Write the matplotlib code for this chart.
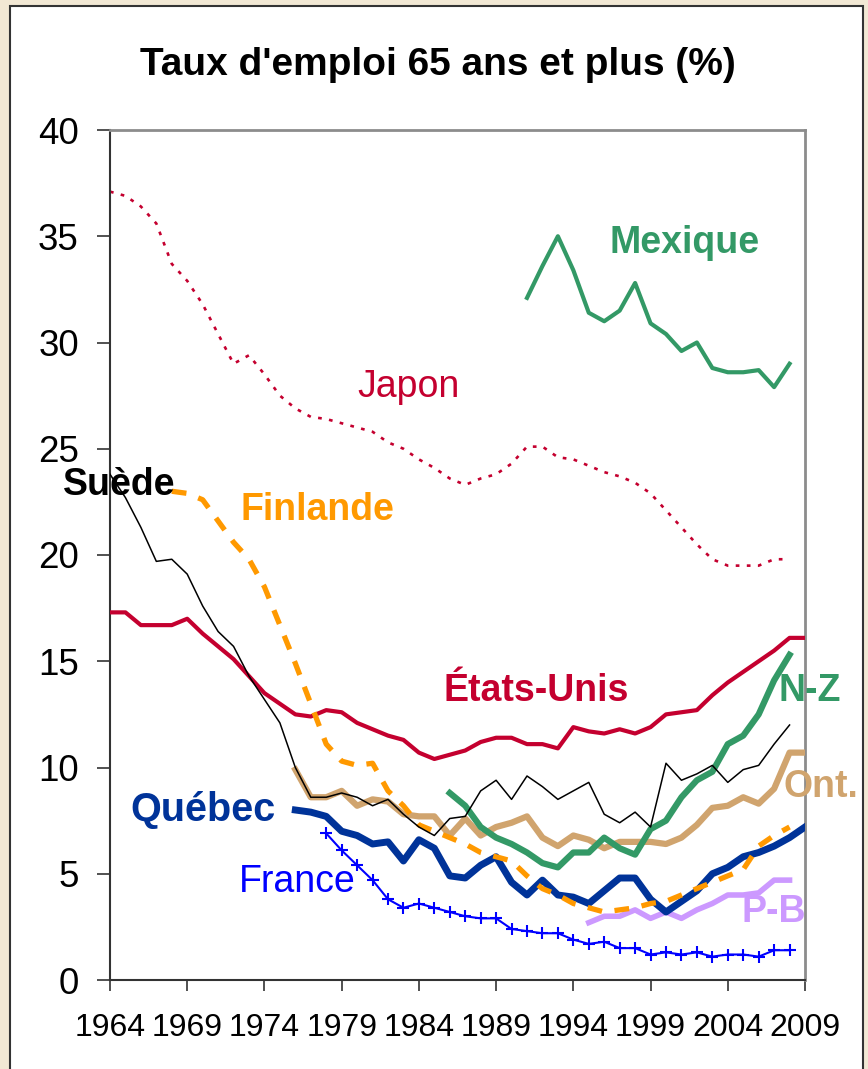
import numpy as np
import matplotlib
matplotlib.use("Agg")
from matplotlib import pyplot as plt
from matplotlib.patches import Rectangle

plt.rcParams['font.family'] = ['Liberation Sans', 'DejaVu Sans']

# taux d'emploi des 65 ans et plus (%)
japon_start = 1964
japon = [37.1, 36.9, 36.4, 35.6, 33.7, 32.9, 31.8, 30.4, 29.0, 29.4,
         28.5, 27.5, 26.9, 26.5, 26.4, 26.2, 26.0, 25.8, 25.3, 25.0,
         24.5, 24.1, 23.6, 23.3, 23.6, 23.8, 24.3, 25.1, 25.1, 24.6,
         24.5, 24.2, 23.9, 23.7, 23.4, 22.9, 22.1, 21.3, 20.5, 19.8,
         19.5, 19.5, 19.5, 19.8, 19.8]

mexique_start = 1991
mexique = [32.1, 33.6, 35.0, 33.4, 31.4, 31.0, 31.5, 32.8, 30.9, 30.4,
           29.6, 30.0, 28.8, 28.6, 28.6, 28.7, 27.9, 29.0]

etats_unis_start = 1964
etats_unis = [17.3, 17.3, 16.7, 16.7, 16.7, 17.0, 16.3, 15.7, 15.1, 14.3,
              13.5, 13.0, 12.5, 12.4, 12.7, 12.6, 12.1, 11.8, 11.5, 11.3,
              10.7, 10.4, 10.6, 10.8, 11.2, 11.4, 11.4, 11.1, 11.1, 10.9,
              11.9, 11.7, 11.6, 11.8, 11.6, 11.9, 12.5, 12.6, 12.7, 13.4,
              14.0, 14.5, 15.0, 15.5, 16.1, 16.1]

suede_start = 1964
suede = [23.8, 22.7, 21.3, 19.7, 19.8, 19.1, 17.6, 16.4, 15.7, 14.3,
         13.2, 12.1, 10.0, 8.6, 8.6, 8.8, 8.6, 8.2, 8.5, 7.8,
         7.2, 6.8, 7.6, 7.7, 8.9, 9.4, 8.5, 9.6, 9.1, 8.5,
         8.9, 9.3, 7.8, 7.4, 7.9, 7.2, 10.2, 9.4, 9.7, 10.1,
         9.3, 9.9, 10.1, 11.1, 12.0]

finlande_start = 1968
finlande = [23.0, 22.9, 22.6, 21.6, 20.6, 19.8,
            18.5, 16.7, 14.9, 13.0, 11.1, 10.3, 10.1, 10.2, 8.9, 8.2,
            7.3, 7.0, 6.7, 6.4, 6.0, 5.8, 5.6, 4.9, 4.3, 4.0,
            3.6, 3.4, 3.2, 3.3, 3.4, 3.6, 3.7, 4.0, 4.3, 4.6,
            4.9, 5.2, 6.3, 6.8, 7.2]

ontario_start = 1976
ontario = [9.9, 8.6, 8.6, 8.9, 8.2, 8.5, 8.4, 7.8, 7.7, 7.7,
           6.8, 7.6, 6.8, 7.2, 7.4, 7.7, 6.7, 6.3, 6.8, 6.6,
           6.2, 6.5, 6.5, 6.5, 6.4, 6.7, 7.3, 8.1, 8.2, 8.6,
           8.3, 9.0, 10.7, 10.7]

nz_start = 1986
nz = [8.8, 8.2, 7.2, 6.7, 6.4, 6.0, 5.5, 5.3, 6.0, 6.0,
      6.7, 6.2, 5.9, 7.1, 7.5, 8.6, 9.4, 9.8, 11.1, 11.5,
      12.5, 14.1, 15.3]

quebec_start = 1976
quebec = [8.0, 7.9, 7.7, 7.0, 6.8, 6.4, 6.5, 5.6, 6.6, 6.2,
          4.9, 4.8, 5.4, 5.8, 4.6, 4.0, 4.7, 4.0, 3.9, 3.6,
          4.2, 4.8, 4.8, 3.8, 3.2, 3.7, 4.2, 5.0, 5.3, 5.8,
          6.0, 6.3, 6.7, 7.2]

france_start = 1978
france = [6.9, 6.1, 5.4, 4.7, 3.8, 3.4, 3.6, 3.4, 3.2, 3.0,
          2.9, 2.9, 2.4, 2.3, 2.2, 2.2, 1.9, 1.7, 1.8, 1.5,
          1.5, 1.2, 1.3, 1.2, 1.3, 1.1, 1.2, 1.2, 1.1, 1.4,
          1.4]

pb_start = 1995
pb = [2.7, 3.0, 3.0, 3.3, 2.9, 3.2, 2.9, 3.3, 3.6, 4.0,
      4.0, 4.1, 4.7, 4.7]

year_ticks = list(range(1964, 2010, 5))

RED = '#C4002F'
GREEN = '#339966'
ORANGE = '#FF9900'
TAN = '#D0A46E'
BLUE_QC = '#003399'
BLUE_FR = '#0000FF'
PURPLE = '#CC99FF'


def yrs(start, values):
    return np.arange(start, start + len(values))


fig = plt.figure(figsize=(8.68, 10.69), dpi=100, facecolor='#F2E8D4')
# panneau blanc
fig.patches.append(Rectangle((10 / 868, -0.01), 853 / 868, 1 - 6 / 1069 + 0.01,
                             transform=fig.transFigure, facecolor='white',
                             edgecolor='#333333', linewidth=1.5, zorder=-5))

ax = fig.add_axes([110 / 868, 1 - 980 / 1069, 695 / 868, 850 / 1069])
ax.set_facecolor('white')
ax.set_zorder(1)

ax.plot(yrs(japon_start, japon), japon, color=RED, lw=1.9,
        linestyle=(0, (1.4, 2.8)), zorder=2)
ax.plot(yrs(etats_unis_start, etats_unis), etats_unis, color=RED, lw=3.0, zorder=3)
ax.plot(yrs(mexique_start, mexique), mexique, color=GREEN, lw=3.0, zorder=3)
ax.plot(yrs(ontario_start, ontario), ontario, color=TAN, lw=4.5, zorder=3)
ax.plot(yrs(pb_start, pb), pb, color=PURPLE, lw=4.0, zorder=3)
ax.plot(yrs(quebec_start, quebec), quebec, color=BLUE_QC, lw=5.0, zorder=4)
ax.plot(yrs(finlande_start, finlande), finlande, color=ORANGE, lw=3.8,
        linestyle=(0, (2.8, 2.4)), zorder=5)
ax.plot(yrs(nz_start, nz), nz, color=GREEN, lw=4.5, zorder=5)
ax.plot(yrs(suede_start, suede), suede, color='black', lw=1.1, zorder=6)
ax.plot(yrs(france_start, france), france, color=BLUE_FR, lw=1.5,
        marker='+', markersize=9, markeredgewidth=1.5, zorder=6)

ax.set_xlim(1964, 2009)
ax.set_ylim(0, 40)
ax.set_xticks(year_ticks)
ax.set_yticks(range(0, 41, 5))
ax.tick_params(axis='x', direction='out', length=8, width=1.2, labelsize=23,
               pad=16, color='#333333')
ax.tick_params(axis='y', direction='out', length=9.5, width=1.2, labelsize=26.5,
               pad=13, color='#333333')
for side in ['left', 'bottom']:
    ax.spines[side].set_color('#333333')
    ax.spines[side].set_linewidth(1.5)
for side in ['top', 'right']:
    ax.spines[side].set_color('#8C8C8C')
    ax.spines[side].set_linewidth(2.0)

fig.text(0.504, 1 - 65 / 1069, "Taux d'emploi 65 ans et plus (%)",
         ha='center', va='center', fontsize=28, fontweight='bold')

lbl = dict(ha='center', va='center', fontsize=27)
ax.text(2001.2, 34.7, 'Mexique', color=GREEN, fontweight='bold', **lbl)
ax.text(1983.3, 27.9, 'Japon', color=RED, **lbl)
ax.text(1964.6, 23.3, 'Suède', color='black', fontweight='bold', zorder=7, **lbl)
ax.text(1977.4, 22.1, 'Finlande', color=ORANGE, fontweight='bold', **lbl)
ax.text(1991.6, 13.6, 'États-Unis', color=RED, fontweight='bold', **lbl)
ax.text(2009.3, 13.6, 'N-Z', color=GREEN, fontweight='bold', **lbl)
ax.text(2010.0, 9.1, 'Ont.', color=TAN, fontweight='bold', **lbl)
ax.text(1970.0, 8.0, 'Québec', color=BLUE_QC, fontweight='bold',
        ha='center', va='center', fontsize=28.5)
ax.text(1976.1, 4.6, 'France', color=BLUE_FR, **lbl)
ax.text(2007.0, 3.2, 'P-B', color=PURPLE, fontweight='bold', **lbl)

fig.savefig('out.png', dpi=100, facecolor=fig.get_facecolor())
